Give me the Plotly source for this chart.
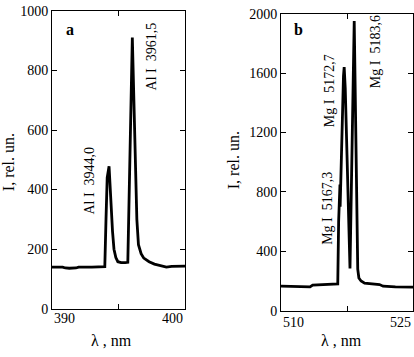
import plotly.graph_objects as go

# Panel a: Al lines
wl_a = [390.0, 390.8, 391.0, 391.3, 391.8, 392.0, 393.0, 393.97, 394.06, 394.15, 394.29, 394.4,
        394.55, 394.66, 394.8, 394.95, 395.2, 395.5, 395.7, 396.04, 396.38, 396.5,
        396.7, 396.9, 397.3, 397.7, 398.2, 398.6, 399.0, 400.0]
int_a = [140, 140, 137, 136, 137, 140, 140, 141, 300, 440, 478, 380,
         260, 200, 172, 158, 155, 155, 156, 910, 300, 215,
         185, 170, 158, 150, 145, 140, 142, 143]

# Panel b: Mg lines
wl_b = [510.0, 511.5, 512.5, 513.3, 513.6, 515.0, 516.3, 516.45, 516.55, 516.7, 516.72, 516.8,
        516.95, 517.1, 517.18, 517.3, 517.5, 517.7, 517.84, 518.32,
        518.55, 518.72, 518.85, 519.1, 519.5, 520.3, 521.2, 521.6, 523.0, 525.0]
int_b = [165, 162, 160, 160, 172, 174, 175, 180, 600, 850, 700, 900,
         1300, 1580, 1640, 1500, 1050, 600, 285, 1950,
         900, 280, 220, 200, 185, 180, 176, 165, 160, 158]

ticks_a_y = [0, 200, 400, 600, 800, 1000]
ticks_b_y = [0, 400, 800, 1200, 1600, 2000]
ticks_a_x = [390, 395, 400]
ticks_b_x = [510, 517.5, 525]

labels_a = [("Al\u00a0I\u00a0\u00a03944,0", 392.85, 430), ("Al\u00a0I\u00a0\u00a03961,5", 397.5, 846)]
labels_b = [("Mg\u00a0I\u00a0\u00a05167,3", 515.3, 690), ("Mg\u00a0I\u00a0\u00a05172,7", 515.45, 1484),
            ("Mg\u00a0I\u00a0\u00a05183,6", 520.7, 1742)]

FONT = "Liberation Serif"
W, H = 414, 357

fig = go.Figure()
fig.add_trace(go.Scatter(x=wl_a, y=int_a, mode="lines", line=dict(color="black", width=2.8),
                         xaxis="x", yaxis="y", showlegend=False))
fig.add_trace(go.Scatter(x=wl_b, y=int_b, mode="lines", line=dict(color="black", width=2.8),
                         xaxis="x2", yaxis="y2", showlegend=False))

axis_common = dict(showline=True, linecolor="black", linewidth=1, mirror="ticks", ticks="inside",
                   ticklen=5, tickcolor="black", showgrid=False, zeroline=False,
                   ticklabeloverflow="allow",
                   tickfont=dict(family=FONT, size=14, color="black"))

fig.update_layout(
    width=W, height=H, margin=dict(l=0, r=0, t=0, b=0),
    paper_bgcolor="white", plot_bgcolor="white",
    xaxis=dict(domain=[52 / W, 185 / W], range=[390, 400], tickvals=ticks_a_x,
               showticklabels=False, anchor="y", **axis_common),
    yaxis=dict(domain=[(H - 315) / H, (H - 4) / H], range=[0, 1000], tickvals=ticks_a_y,
               ticktext=[str(v) for v in ticks_a_y], anchor="x", **axis_common),
    xaxis2=dict(domain=[281 / W, 413 / W], range=[510, 525], tickvals=ticks_b_x,
                showticklabels=False, anchor="y2", **axis_common),
    yaxis2=dict(domain=[(H - 317) / H, (H - 7) / H], range=[0, 2000], tickvals=ticks_b_y,
                ticktext=[str(v) for v in ticks_b_y], anchor="x2", **axis_common),
)

ann = []
# x tick labels (aligned inside the axis span)
for xref, vals, yv in [("x", ticks_a_x, 325), ("x2", ticks_b_x, 329)]:
    ann.append(dict(x=vals[0], y=(H - yv) / H, xref=xref, yref="paper", text=str(vals[0]),
                    xanchor="left", yanchor="middle", showarrow=False))
    ann.append(dict(x=vals[-1], y=(H - yv) / H, xref=xref, yref="paper", text=str(vals[-1]),
                    xanchor="right", yanchor="middle", showarrow=False))
# peak labels
for text, xv, yv in labels_a:
    ann.append(dict(x=xv, y=yv, xref="x", yref="y", text=text, textangle=-90, showarrow=False,
                    xanchor="center", yanchor="middle"))
for text, xv, yv in labels_b:
    ann.append(dict(x=xv, y=yv, xref="x2", yref="y2", text=text, textangle=-90, showarrow=False,
                    xanchor="center", yanchor="middle"))
big = dict(family=FONT, size=16, color="black")
# panel letters
ann.append(dict(x=70 / W, y=(H - 23) / H, text="<b>a</b>", font=big))
ann.append(dict(x=298 / W, y=(H - 23) / H, text="<b>b</b>", font=big))
# axis titles
ann.append(dict(x=8 / W, y=(H - 162) / H, text="I, rel. un.", textangle=-90, font=big))
ann.append(dict(x=233 / W, y=(H - 160) / H, text="I, rel. un.", textangle=-90, font=big))
ann.append(dict(x=112 / W, y=(H - 348) / H, text="\u03bb , nm", font=big))
ann.append(dict(x=341 / W, y=(H - 348) / H, text="\u03bb , nm", font=big))
for a in ann[-6:]:
    a.update(xref="paper", yref="paper", showarrow=False, xanchor="center", yanchor="middle")

for a in ann:
    a.setdefault("font", dict(family=FONT, size=14, color="black"))
fig.update_layout(annotations=ann)

fig.write_html("out.html", config={"displayModeBar": False},
               post_script="document.body.style.margin='0';")
